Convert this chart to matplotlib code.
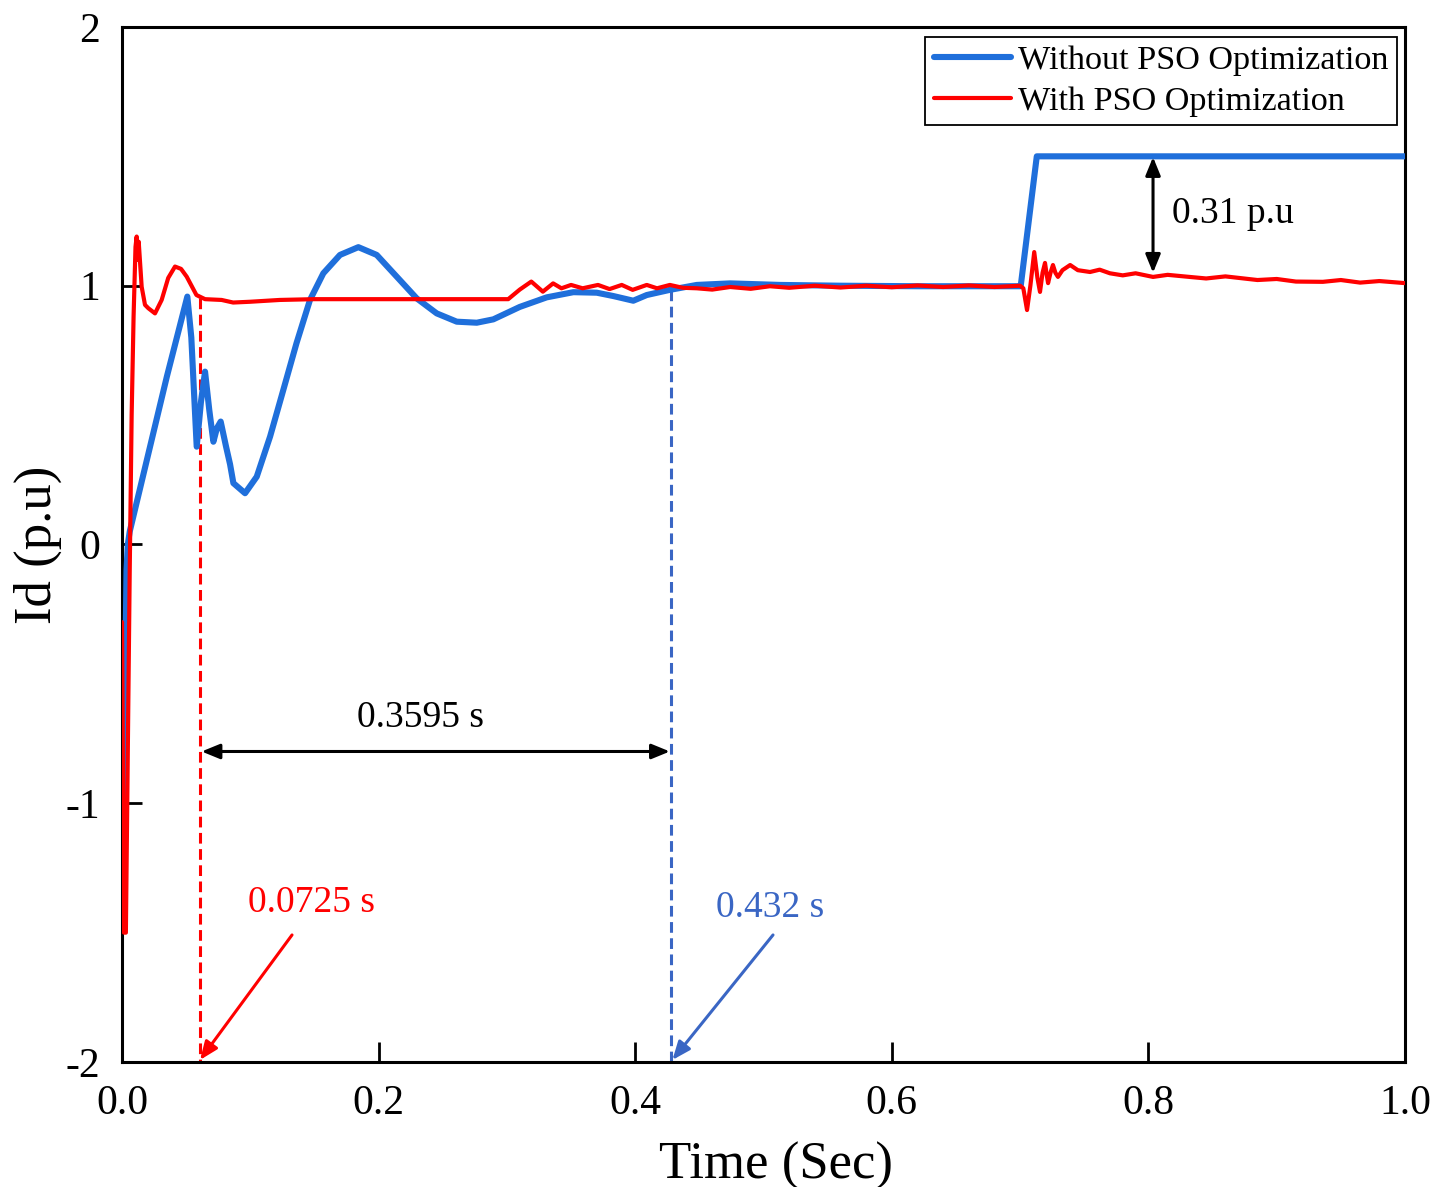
import matplotlib
matplotlib.use("Agg")
import matplotlib.pyplot as plt

# ---------------- data ----------------
blue_t = [0.0005, 0.0015, 0.0025, 0.0035, 0.0045, 0.006, 0.020, 0.035, 0.0509, 0.054,
          0.0582, 0.0615, 0.0647, 0.068, 0.0712, 0.074, 0.0769, 0.081, 0.0842, 0.0868,
          0.0959, 0.105, 0.1154, 0.1257, 0.136, 0.1465, 0.1569, 0.1699, 0.1842, 0.1985,
          0.2141, 0.2297, 0.2453, 0.2609, 0.2765, 0.2894, 0.310, 0.331, 0.3518, 0.370,
          0.383, 0.3985, 0.409, 0.427, 0.448, 0.474, 0.513, 0.560, 0.620, 0.700,
          0.7005, 0.713, 1.000]
blue_y = [-1.03, -0.95, -0.50, -0.10, 0.00, 0.05, 0.34, 0.65, 0.958, 0.80,
          0.378, 0.55, 0.668, 0.52, 0.397, 0.45, 0.475, 0.38, 0.31, 0.237,
          0.198, 0.262, 0.417, 0.597, 0.778, 0.945, 1.048, 1.119, 1.149, 1.119,
          1.035, 0.951, 0.893, 0.861, 0.857, 0.870, 0.918, 0.955, 0.975, 0.973,
          0.960, 0.942, 0.964, 0.984, 1.003, 1.009, 1.003, 1.000, 0.998, 0.998,
          1.000, 1.50, 1.50]

red_t = [0.000, 0.0015, 0.003, 0.0045, 0.006, 0.0075, 0.009, 0.0105, 0.0114, 0.0122,
         0.013, 0.0153, 0.0179, 0.0205, 0.0257, 0.0309, 0.036, 0.0413, 0.046, 0.0504,
         0.058, 0.0647, 0.0776, 0.0866, 0.0998, 0.123, 0.150, 0.200, 0.250, 0.301,
         0.310, 0.319, 0.328, 0.336, 0.3425, 0.350, 0.359, 0.371, 0.380, 0.3895,
         0.398, 0.409, 0.417, 0.427, 0.437, 0.448, 0.460, 0.474, 0.490, 0.505,
         0.520, 0.540, 0.560, 0.580, 0.600, 0.620, 0.640, 0.660, 0.680, 0.700,
         0.7025, 0.7054, 0.708, 0.711, 0.7135, 0.7155, 0.7175, 0.7194, 0.7208, 0.7218,
         0.7237, 0.7256, 0.7275, 0.7295, 0.733, 0.739, 0.745, 0.7545, 0.762, 0.770,
         0.780, 0.790, 0.8036, 0.815, 0.832, 0.845, 0.860, 0.885, 0.900, 0.915,
         0.936, 0.950, 0.965, 0.980, 1.000]
red_y = [-0.30, -1.50, -1.50, -0.80, -0.10, 0.50, 0.88, 1.15, 1.19, 1.10,
         1.17, 0.996, 0.926, 0.913, 0.893, 0.945, 1.03, 1.074, 1.065, 1.035,
         0.964, 0.948, 0.945, 0.935, 0.938, 0.945, 0.948, 0.948, 0.948, 0.948,
         0.985, 1.016, 0.977, 1.009, 0.990, 1.003, 0.990, 1.003, 0.987, 1.003,
         0.984, 1.003, 0.990, 1.003, 0.992, 0.990, 0.985, 0.995, 0.988, 0.998,
         0.992, 1.000, 0.993, 1.000, 0.994, 1.001, 0.995, 1.001, 0.995, 1.000,
         0.990, 0.906, 1.000, 1.130, 1.030, 0.976, 1.050, 1.088, 1.040, 1.010,
         1.050, 1.080, 1.050, 1.034, 1.060, 1.080, 1.060, 1.053, 1.062, 1.048,
         1.040, 1.048, 1.034, 1.042, 1.034, 1.028, 1.036, 1.022, 1.026, 1.016,
         1.015, 1.022, 1.012, 1.018, 1.010]

legend_labels = ["Without PSO Optimization", "With PSO Optimization"]
x_ticks = [0.0, 0.2, 0.4, 0.6, 0.8, 1.0]
x_tick_labels = ["0.0", "0.2", "0.4", "0.6", "0.8", "1.0"]
y_ticks = [-2, -1, 0, 1, 2]
y_tick_labels = ["-2", "-1", "0", "1", "2"]

red_settle_t, red_settle_y = 0.061, 0.953
blue_settle_t, blue_settle_y = 0.428, 0.985
gap_t, gap_top, gap_bottom = 0.8036, 1.497, 1.05

# ---------------- style ----------------
plt.rcParams['font.family'] = ['Liberation Serif', 'DejaVu Serif']
BLUE = '#1f6fdb'
RED = '#ff0000'
BLUE_ANN = '#3a66c4'

fig = plt.figure(figsize=(14.51, 11.87), dpi=100)
ax = fig.add_axes([0.0841, 0.1053, 0.8842, 0.8720])

ax.plot(blue_t, blue_y, color=BLUE, lw=4.4, label=legend_labels[0],
        solid_joinstyle='round', solid_capstyle='round', zorder=3)
ax.plot(red_t, red_y, color=RED, lw=3.0, label=legend_labels[1],
        solid_joinstyle='round', solid_capstyle='round', zorder=4)

ax.set_xlim(0, 1.0)
ax.set_ylim(-2, 2)
ax.set_xticks(x_ticks)
ax.set_xticklabels(x_tick_labels)
ax.set_yticks(y_ticks)
ax.set_yticklabels(y_tick_labels)
ax.tick_params(axis='both', direction='in', length=14.5, width=2.0, labelsize=30, colors='black')
ax.tick_params(axis='x', pad=16)
ax.tick_params(axis='y', pad=16)
for s in ax.spines.values():
    s.set_linewidth(2.2)
    s.set_color('black')

ax.set_xlabel("Time (Sec)", fontsize=38)
ax.set_ylabel("Id (p.u)", fontsize=38)
ax.xaxis.set_label_coords(0.51, -0.077)
ax.yaxis.set_label_coords(-0.047, 0.5)

# dashed settling lines
ax.plot([red_settle_t, red_settle_t], [red_settle_y, -2], color=RED, lw=2.2,
        dashes=(3.5, 1.8), zorder=2)
ax.plot([blue_settle_t, blue_settle_t], [blue_settle_y, -2], color=BLUE_ANN, lw=2.2,
        dashes=(3.5, 1.8), zorder=2)

# double arrow between settling times
ax.annotate("", xy=(red_settle_t + 0.001, -0.80), xytext=(blue_settle_t - 0.001, -0.80),
            arrowprops=dict(arrowstyle='<|-|>,head_length=1.1,head_width=0.45',
                            color='black', lw=2.2, shrinkA=0, shrinkB=0))
ax.text(0.2323, -0.671, "0.3595 s", fontsize=27, ha='center', va='center', color='black')

# red label & arrow
ax.annotate("", xy=(0.0608, -1.992), xytext=(0.1325, -1.509),
            arrowprops=dict(arrowstyle='-|>,head_length=1.1,head_width=0.45',
                            color=RED, lw=2.2, shrinkA=0, shrinkB=0))
ax.text(0.1473, -1.386, "0.0725 s", fontsize=27, ha='center', va='center', color=RED)

# blue label & arrow
ax.annotate("", xy=(0.429, -1.992), xytext=(0.5074, -1.509),
            arrowprops=dict(arrowstyle='-|>,head_length=1.1,head_width=0.45',
                            color=BLUE_ANN, lw=2.2, shrinkA=0, shrinkB=0))
ax.text(0.505, -1.405, "0.432 s", fontsize=27, ha='center', va='center', color=BLUE_ANN)

# 0.31 p.u gap arrow
ax.annotate("", xy=(gap_t, gap_top), xytext=(gap_t, gap_bottom),
            arrowprops=dict(arrowstyle='<|-|>,head_length=1.1,head_width=0.45',
                            color='black', lw=2.2, shrinkA=0, shrinkB=0))
ax.text(0.8184, 1.277, "0.31 p.u", fontsize=27, ha='left', va='center', color='black')

leg = ax.legend(loc='upper right', bbox_to_anchor=(0.9938, 0.9903), borderaxespad=0,
                fontsize=24.6, frameon=True, fancybox=False, framealpha=1,
                edgecolor='black', handlelength=2.25, handletextpad=0.22,
                labelspacing=0.28, borderpad=0.25)
leg.get_frame().set_linewidth(1.3)

fig.savefig("out.png", dpi=100)
